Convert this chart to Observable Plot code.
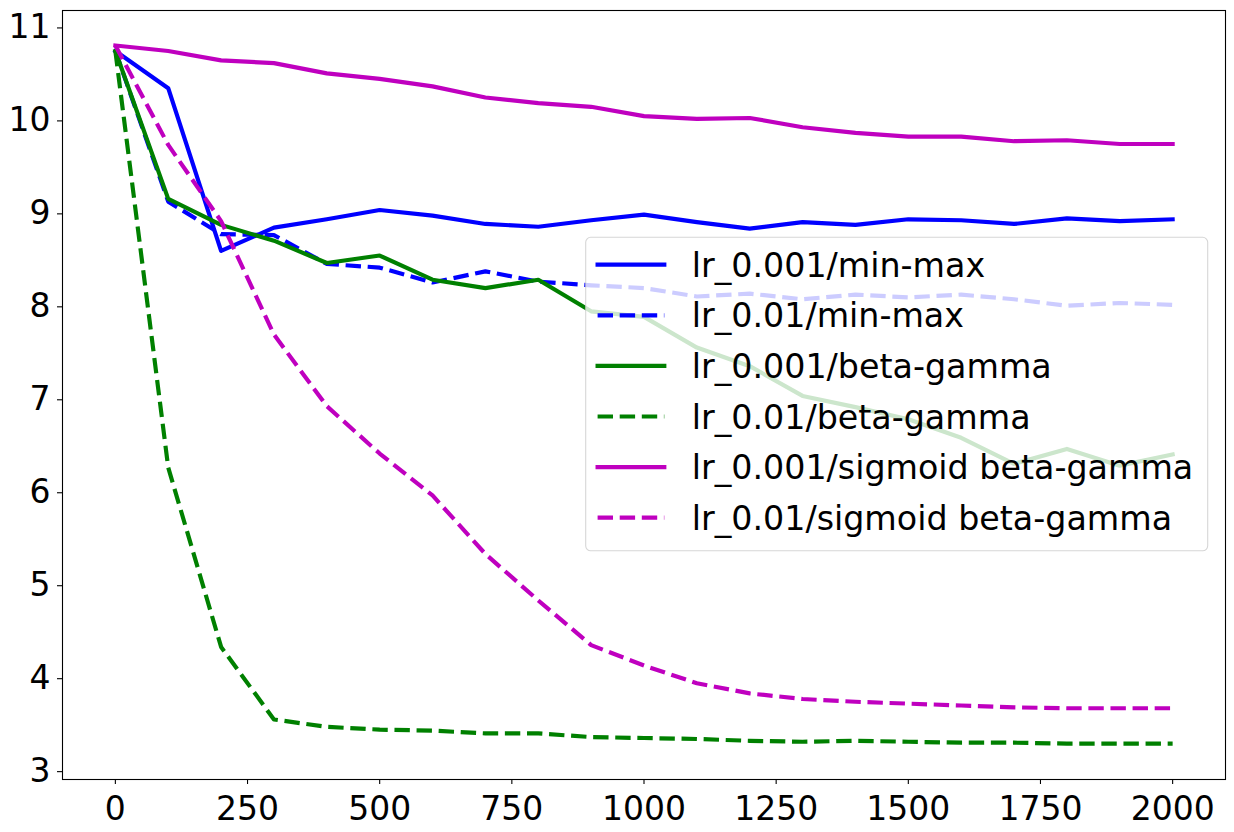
<!DOCTYPE html>
<html>
<head>
<meta charset="utf-8">
<script src="https://cdn.jsdelivr.net/npm/d3@7"></script>
<script src="https://cdn.jsdelivr.net/npm/@observablehq/plot@0.6"></script>
<style>
  html, body { margin: 0; padding: 0; background: #fff; }
  svg { display: block; }
</style>
</head>
<body>
<div id="chart"></div>
<script>
// ---- data ----
const steps = [0, 100, 200, 300, 400, 500, 600, 700, 800, 900, 1000, 1100, 1200, 1300, 1400, 1500, 1600, 1700, 1800, 1900, 2000];

const lr001MinMax   = [10.73, 10.33, 8.58, 8.83, 8.92, 9.02, 8.96, 8.87, 8.84, 8.91, 8.97, 8.89, 8.82, 8.89, 8.86, 8.92, 8.91, 8.87, 8.93, 8.90, 8.92];
const lr01MinMax    = [10.73, 9.11, 8.76, 8.75, 8.44, 8.40, 8.24, 8.36, 8.25, 8.21, 8.18, 8.09, 8.12, 8.06, 8.11, 8.08, 8.11, 8.06, 7.99, 8.02, 8.00];
const lr001BetaGamma = [10.73, 9.14, 8.86, 8.69, 8.45, 8.53, 8.27, 8.18, 8.27, 7.93, 7.87, 7.54, 7.34, 7.02, 6.90, 6.77, 6.57, 6.29, 6.45, 6.27, 6.39];
const lr01BetaGamma = [10.73, 6.25, 4.32, 3.54, 3.46, 3.43, 3.42, 3.39, 3.39, 3.35, 3.34, 3.33, 3.31, 3.30, 3.31, 3.30, 3.29, 3.29, 3.28, 3.28, 3.28];
const lr001Sigmoid  = [10.79, 10.73, 10.63, 10.60, 10.49, 10.43, 10.35, 10.23, 10.17, 10.13, 10.03, 10.00, 10.01, 9.91, 9.85, 9.81, 9.81, 9.76, 9.77, 9.73, 9.73];
const lr01Sigmoid   = [10.79, 9.72, 8.90, 7.68, 6.91, 6.40, 5.95, 5.32, 4.82, 4.34, 4.12, 3.93, 3.82, 3.76, 3.73, 3.71, 3.69, 3.67, 3.66, 3.66, 3.66];

const seriesNames = [
  "lr_0.001/min-max",
  "lr_0.01/min-max",
  "lr_0.001/beta-gamma",
  "lr_0.01/beta-gamma",
  "lr_0.001/sigmoid beta-gamma",
  "lr_0.01/sigmoid beta-gamma"
];
const seriesValues = [lr001MinMax, lr01MinMax, lr001BetaGamma, lr01BetaGamma, lr001Sigmoid, lr01Sigmoid];
const seriesColors = ["#0000ff", "#0000ff", "#008000", "#008000", "#bf00bf", "#bf00bf"];
const seriesDashed = [false, true, false, true, false, true];

const xTicks = [0, 250, 500, 750, 1000, 1250, 1500, 1750, 2000];
const yTicks = [3, 4, 5, 6, 7, 8, 9, 10, 11];

// ---- build table ----
const rows = [];
seriesNames.forEach((name, i) => {
  steps.forEach((s, j) => rows.push({series: name, step: s, value: seriesValues[i][j]}));
});

const LW = 4.17;
const DASH = "15.4,6.7";

const lineMarks = seriesNames.map((name, i) =>
  Plot.line(rows.filter(d => d.series === name), {
    x: "step",
    y: "value",
    stroke: seriesColors[i],
    strokeWidth: LW,
    strokeDasharray: seriesDashed[i] ? DASH : null,
    strokeLinecap: seriesDashed[i] ? "butt" : "square",
    strokeLinejoin: "round"
  })
);

const chart = Plot.plot({
  width: 1234,
  height: 832,
  marginLeft: 62,
  marginRight: 9,
  marginTop: 10,
  marginBottom: 53,
  style: {fontFamily: "DejaVu Sans", fontSize: "33px", color: "black", background: "white"},
  x: {domain: [-100, 2100]},
  y: {domain: [2.894, 11.166]},
  marks: [
    ...lineMarks,
    Plot.frame({stroke: "black", strokeWidth: 1.1}),
    Plot.axisX({ticks: xTicks, tickSize: 5, tickPadding: 12, tickFormat: "d", fontSize: 33, label: null, strokeWidth: 1.1}),
    Plot.axisY({ticks: yTicks, tickSize: 5, tickPadding: 7, tickFormat: "d", fontSize: 33, label: null, dy: 2, strokeWidth: 1.1})
  ]
});

document.getElementById("chart").appendChild(chart);

// ---- legend (matplotlib-style, drawn over the lines) ----
const svg = d3.select(chart);
const lg = svg.append("g").attr("class", "legend").attr("text-anchor", "start");
const boxX = 585.7, boxY = 237.3, boxW = 622, boxH = 313.5;
lg.append("rect")
  .attr("x", boxX).attr("y", boxY)
  .attr("width", boxW).attr("height", boxH)
  .attr("rx", 5).attr("ry", 5)
  .attr("fill", "white").attr("fill-opacity", 0.8)
  .attr("stroke", "#cccccc").attr("stroke-opacity", 0.8).attr("stroke-width", 1.1);

const rowY0 = 264.7, rowStep = 50.6;
seriesNames.forEach((name, i) => {
  const y = rowY0 + i * rowStep;
  lg.append("line")
    .attr("x1", 597.6).attr("x2", 664.3)
    .attr("y1", y).attr("y2", y)
    .attr("stroke", seriesColors[i])
    .attr("stroke-width", LW)
    .attr("stroke-dasharray", seriesDashed[i] ? DASH : null)
    .attr("stroke-linecap", seriesDashed[i] ? "butt" : "square");
  lg.append("text")
    .attr("x", 691.7).attr("y", y + 12)
    .attr("text-anchor", "start")
    .attr("font-family", "DejaVu Sans")
    .attr("font-size", 33.3)
    .attr("fill", "black")
    .text(name);
});
</script>
</body>
</html>
